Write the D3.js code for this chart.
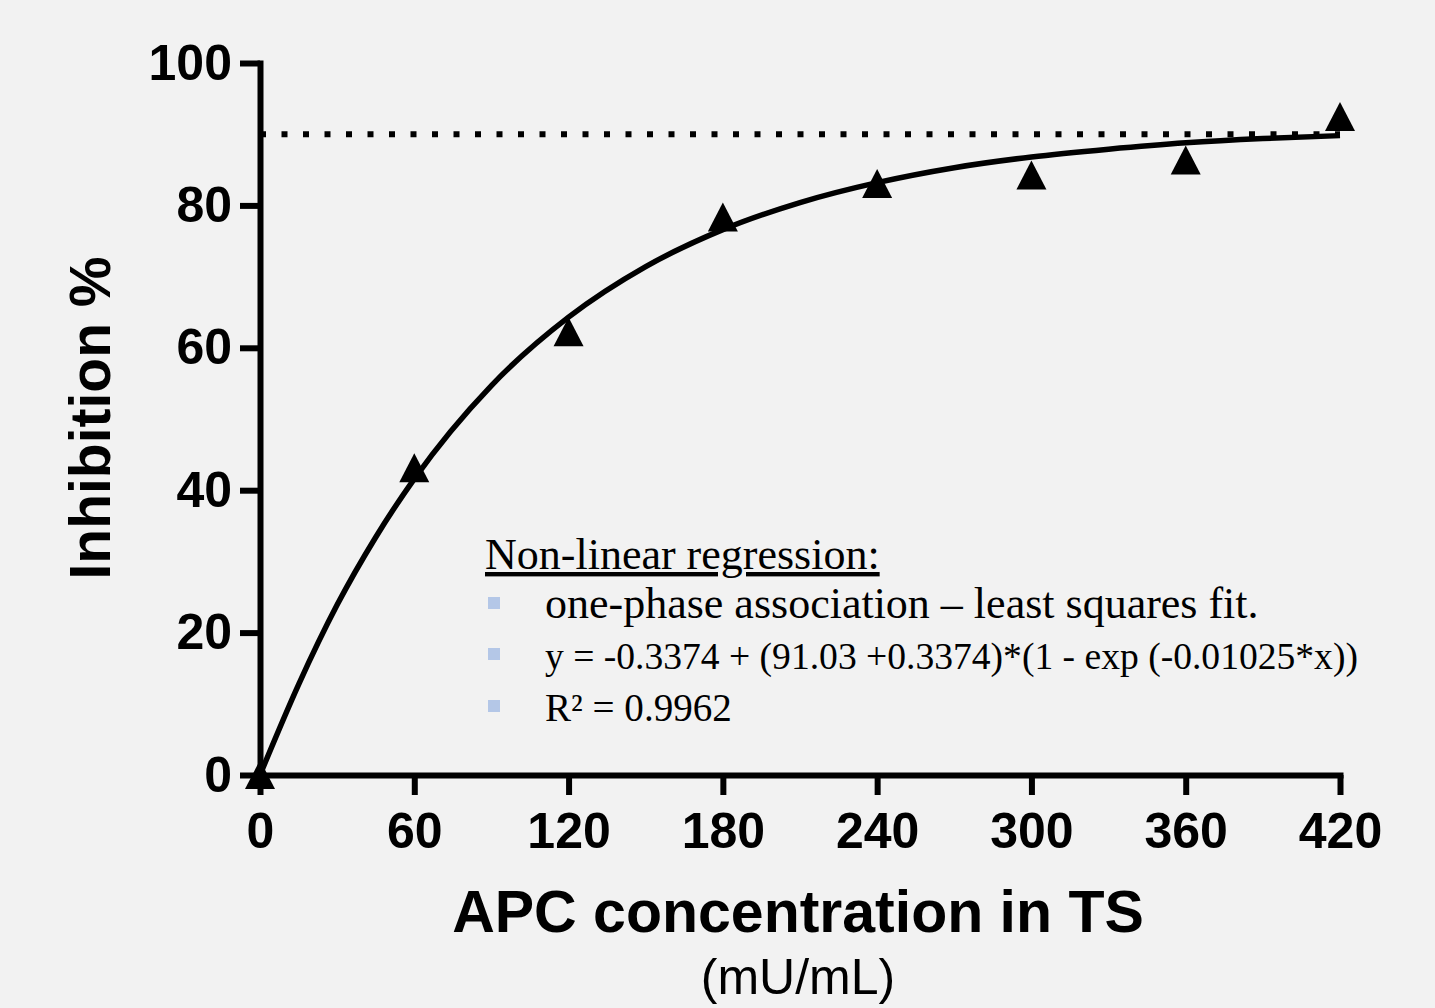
<!DOCTYPE html>
<html>
<head>
<meta charset="utf-8">
<script src="https://cdn.jsdelivr.net/npm/d3@7"></script>
<style>
  html, body { margin: 0; padding: 0; background: #f2f2f2; }
  svg { display: block; }
</style>
</head>
<body>
<svg id="chart" width="1435" height="1008"></svg>
<script>
// ---- data ----
const xTicks = [0, 60, 120, 180, 240, 300, 360, 420];
const yTicks = [0, 20, 40, 60, 80, 100];
const obsX = [0, 60, 120, 180, 240, 300, 360, 420];
const obsY = [0, 43.1, 62.2, 78.3, 83.0, 84.2, 86.3, 92.4];
// fitted curve values
const fitX = [0, 15, 30, 45, 60, 90, 120, 150, 180, 210, 240, 270, 300, 330, 360, 390, 420];
const fitY = [0, 12.7, 23.9, 33.4, 41.6, 54.7, 64.3, 71.4, 76.6, 80.4, 83.2, 85.3, 86.8, 87.9, 88.8, 89.4, 89.8];
const plateau = 90;
const xTitle = "APC concentration in TS";
const xUnit = "(mU/mL)";
const yTitle = "Inhibition %";
const legendTitle = "Non-linear regression:";
const legendLines = [
  "one-phase association \u2013 least squares fit.",
  "y = -0.3374 + (91.03 +0.3374)*(1 - exp (-0.01025*x))",
  "R\u00b2 = 0.9962"
];

// ---- layout ----
const svg = d3.select("#chart");
svg.append("rect").attr("width", 1435).attr("height", 1008).attr("fill", "#f2f2f2");

const x = d3.scaleLinear().domain([0, 420]).range([260, 1340]);
const y = d3.scaleLinear().domain([0, 100]).range([775, 63]);

const sansBold = "'Liberation Sans', Arial, sans-serif";

// dotted plateau line
svg.append("line")
  .attr("x1", x(0)).attr("x2", x(420))
  .attr("y1", y(plateau)).attr("y2", y(plateau))
  .attr("stroke", "#000").attr("stroke-width", 6)
  .attr("stroke-dasharray", "6,15.5");

// axes
const yAxis = d3.axisLeft(y).tickValues(yTicks).tickSize(20).tickSizeOuter(0).tickPadding(8);
const xAxis = d3.axisBottom(x).tickValues(xTicks).tickSize(20).tickSizeOuter(0).tickPadding(17);

const gy = svg.append("g").attr("transform", `translate(${x(0)},0)`).call(yAxis);
const gx = svg.append("g").attr("transform", `translate(0,${y(0)})`).call(xAxis);

[gx, gy].forEach(g => {
  g.select(".domain").attr("stroke", "#000").attr("stroke-width", 6).attr("stroke-linecap", "square");
  g.selectAll(".tick line").attr("stroke", "#000").attr("stroke-width", 6);
  g.selectAll(".tick text")
    .attr("fill", "#000")
    .style("font-family", sansBold)
    .style("font-weight", "bold")
    .style("font-size", "50px");
});

// markers
const tri = {
  draw(ctx, size) {
    ctx.moveTo(0, -15);
    ctx.lineTo(15, 14);
    ctx.lineTo(-15, 14);
    ctx.closePath();
  }
};
svg.append("g").selectAll("path")
  .data(obsX.map((d, i) => [d, obsY[i]]))
  .join("path")
  .attr("transform", d => `translate(${x(d[0])},${y(d[1])})`)
  .attr("d", d3.symbol(tri, 100))
  .attr("fill", "#000");

// fit curve
const line = d3.line().x(d => x(d[0])).y(d => y(d[1])).curve(d3.curveMonotoneX);
svg.append("path")
  .datum(fitX.map((d, i) => [d, fitY[i]]))
  .attr("d", line)
  .attr("fill", "none")
  .attr("stroke", "#000")
  .attr("stroke-width", 5.5);

// axis titles
svg.append("text")
  .attr("x", 798).attr("y", 932)
  .attr("text-anchor", "middle")
  .style("font-family", sansBold).style("font-weight", "bold").style("font-size", "59px")
  .text(xTitle);

svg.append("text")
  .attr("x", 798).attr("y", 994)
  .attr("text-anchor", "middle")
  .style("font-family", "'Liberation Sans', Arial, sans-serif").style("font-size", "50px")
  .text(xUnit);

svg.append("text")
  .attr("transform", "translate(110,418) rotate(-90)")
  .attr("text-anchor", "middle")
  .style("font-family", sansBold).style("font-weight", "bold").style("font-size", "57px")
  .text(yTitle);

// legend
const serif = "'Liberation Serif', 'Times New Roman', serif";
svg.append("text")
  .attr("x", 485).attr("y", 569)
  .style("font-family", serif).style("font-size", "44px")
  .style("text-decoration", "underline")
  .attr("fill", "#000")
  .text(legendTitle);

const baselines = [618, 669, 721];
const widths = [710, 813, 187];
legendLines.forEach((t, i) => {
  svg.append("rect")
    .attr("x", 488).attr("y", baselines[i] - 21)
    .attr("width", 12).attr("height", 12)
    .attr("fill", "#b4c7e7");
  const tx = svg.append("text")
    .attr("x", 545).attr("y", baselines[i])
    .style("font-family", serif).style("font-size", "44px")
    .attr("fill", "#000")
    .text(t);
  const w = tx.node().getComputedTextLength();
  if (w > widths[i] * 1.02) {
    tx.style("font-size", (44 * widths[i] / w).toFixed(1) + "px");
  }
});
</script>
</body>
</html>
